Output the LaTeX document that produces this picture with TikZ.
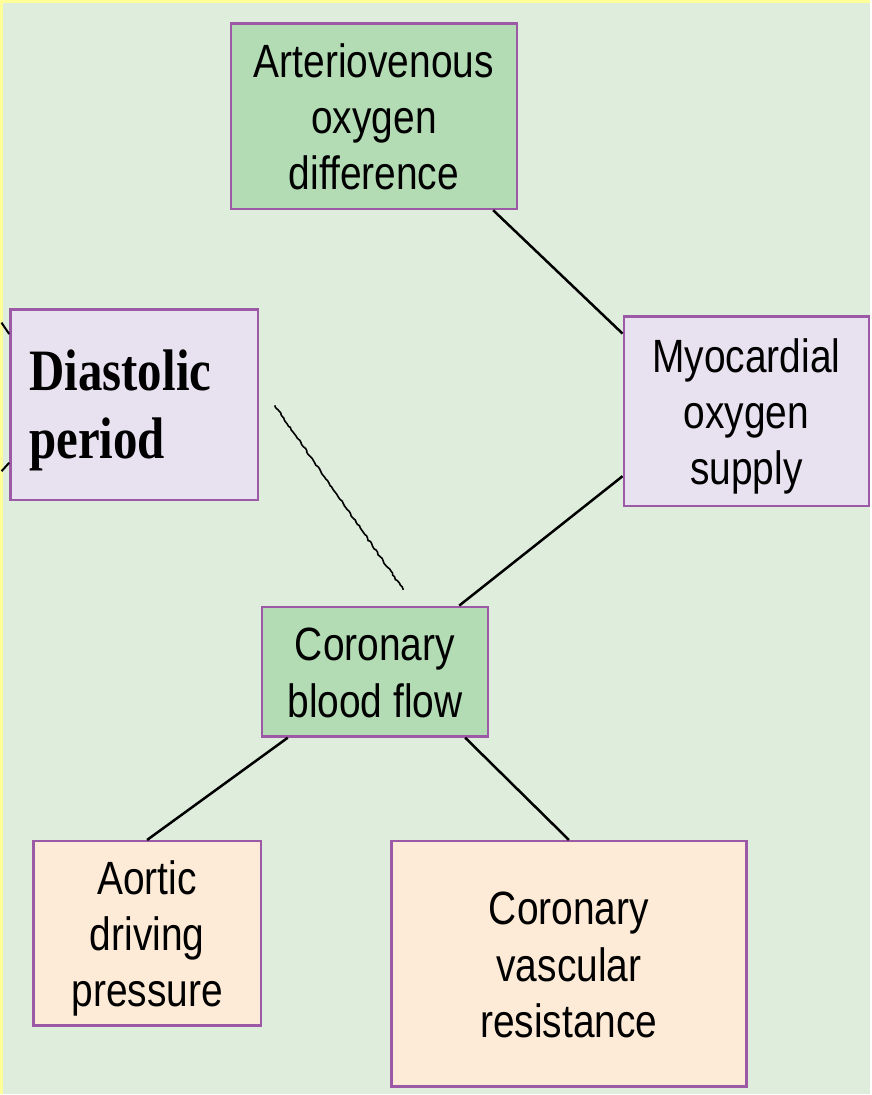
\documentclass[tikz,border=0pt]{standalone}
\usepackage{fontspec}
\setmainfont{Liberation Sans}
\newfontfamily\diastfont{Liberation Serif}
\usepackage{graphicx}
\usetikzlibrary{positioning,decorations.pathmorphing}

\definecolor{bggreen}{HTML}{DFEEDC}
\definecolor{boxgreen}{HTML}{B3DCB5}
\definecolor{boxlilac}{HTML}{E8E2F0}
\definecolor{boxpeach}{HTML}{FEEBD7}
\definecolor{boxedge}{HTML}{9C5AA6}
\definecolor{edgeyellow}{HTML}{FFFF99}

% text in the picture is a little taller than wide, and sits a bit low
\newcommand{\tallt}[2][c]{\raisebox{-6pt}[\height][\depth]{\scalebox{1}[1.2]{\begin{tabular}{@{}#1@{}}#2\end{tabular}}}}

\begin{document}
\begin{tikzpicture}[x=1pt,y=-1pt,
		box/.style={draw=boxedge,line width=2.5pt,rectangle,inner sep=0pt,
			font=\fontsize{39}{47}\selectfont},
		link/.style={line width=2.5pt,black}]
	\fill[bggreen] (0,0) rectangle (871,1095);
	\draw[edgeyellow,line width=3pt] (0,1095) -- (0,0) -- (871,0);
	\useasboundingbox (0,0) rectangle (871,1095);

	% boxes
	\node[box,fill=boxgreen,minimum width=287pt,minimum height=186pt] (avo) at (373.5,115) {\tallt{Arteriovenous\\oxygen\\difference}};
	\node[box,fill=boxlilac,minimum width=246pt,minimum height=190pt] (supply) at (747,411) {\tallt{Myocardial\\oxygen\\supply}};
	\node[box,fill=boxlilac,minimum height=191pt,text width=210pt,inner xsep=19pt,align=left,
		font=\diastfont\bfseries\fontsize{49}{56.7}\selectfont] (diast) at (133,404.5) {\tallt[l]{Diastolic\\period}};
	\node[box,fill=boxgreen,minimum width=227pt,minimum height=130pt] (cbf) at (374.5,672) {\tallt{Coronary\\blood flow}};
	\node[box,fill=boxpeach,minimum width=228pt,minimum height=185pt] (aortic) at (146,934.5) {\tallt{Aortic\\driving\\pressure}};
	\node[box,fill=boxpeach,minimum width=356pt,minimum height=246pt] (cvr) at (569,965) {\tallt{Coronary\\vascular\\resistance}};

	% connectors
	\draw[link] ([xshift=119.5pt]avo.south) -- ([yshift=78pt]supply.west);
	\draw[link] ([yshift=-65pt]supply.west) -- ([xshift=84.5pt]cbf.north);
	\draw[link] ([xshift=-87.5pt]cbf.south) -- (aortic.north);
	\draw[link] ([xshift=90.5pt]cbf.south) -- (cvr.north);

	% hand drawn stroke and the cut off lines at the left
	\coordinate (scribA) at (274,405);
	\coordinate (scribB) at (403,590);
	\draw[link,line width=1.6pt,decorate,decoration={random steps,segment length=2.5pt,amplitude=0.8pt}] (scribA) -- (scribB);
	\coordinate (stubA) at (0,322);
	\coordinate (stubB) at (0,471);
	\draw[link,line width=2pt] (stubA) -- ([yshift=71pt]diast.west);
	\draw[link,line width=2pt] (stubB) -- ([yshift=-58pt]diast.west);
\end{tikzpicture}
\end{document}
